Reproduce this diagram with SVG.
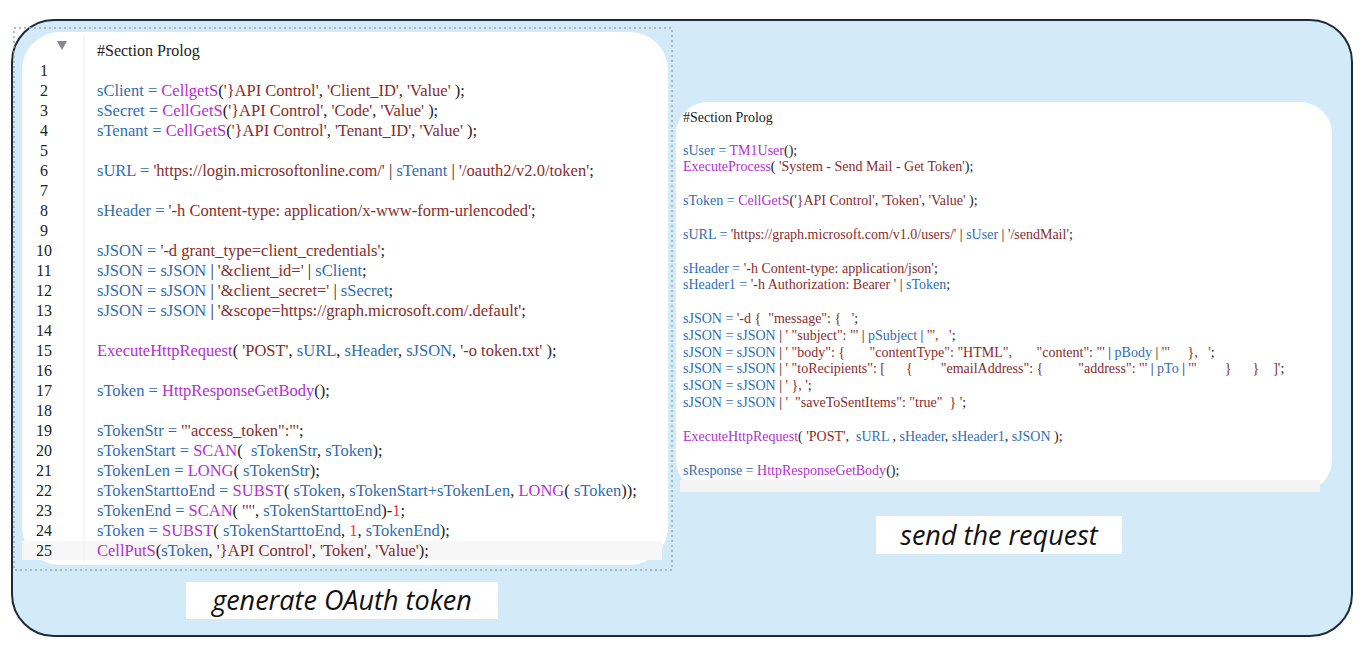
<svg xmlns="http://www.w3.org/2000/svg" width="1368" height="670" viewBox="0 0 1368 670">
<style>
text{white-space:pre}
.c{font-family:"Liberation Serif","Times New Roman","DejaVu Serif",serif;font-size:16.5px;fill:#2f6db3}
.r{font-family:"Liberation Serif","Times New Roman","DejaVu Serif",serif;font-size:14px;fill:#2f6db3}
.n{font-family:"Liberation Serif","Times New Roman","DejaVu Serif",serif;font-size:16px;fill:#222}
.f{fill:#b52fd0}.s{fill:#8a2b2b}.k{fill:#222}.d{fill:#e33}
.lbl{font-family:"Open Sans","DejaVu Sans",sans-serif;font-style:italic;font-size:27px;fill:#111}
</style>
<rect x="12" y="20" width="1340" height="616" rx="42" fill="#d3ebf9" stroke="#1f2b3b" stroke-width="2"/>
<g id="left">
<rect x="14" y="28" width="658" height="542" fill="none" stroke="#9aa" stroke-width="1.5" stroke-dasharray="2 3"/>
<rect x="22" y="32" width="646" height="533" rx="38" fill="#fff"/>
<rect x="22" y="541" width="640" height="19" fill="#f7f7f7"/>
<line x1="84" y1="34" x2="84" y2="562" stroke="#eee"/>
<path d="M57 41h10l-5 9z" fill="#888"/>
<text class="n" x="97" y="56" font-size="17">#Section Prolog</text>
<g class="n" text-anchor="middle">
<text x="44" y="76">1</text><text x="44" y="96">2</text><text x="44" y="116">3</text><text x="44" y="136">4</text><text x="44" y="156">5</text><text x="44" y="176">6</text><text x="44" y="196">7</text><text x="44" y="216">8</text><text x="44" y="236">9</text><text x="44" y="256">10</text><text x="44" y="276">11</text><text x="44" y="296">12</text><text x="44" y="316">13</text><text x="44" y="336">14</text><text x="44" y="356">15</text><text x="44" y="376">16</text><text x="44" y="396">17</text><text x="44" y="416">18</text><text x="44" y="436">19</text><text x="44" y="456">20</text><text x="44" y="476">21</text><text x="44" y="496">22</text><text x="44" y="516">23</text><text x="44" y="536">24</text><text x="44" y="556">25</text>
</g>
<g class="c">
<text x="97" y="96">sClient = <tspan class="f">CellgetS</tspan><tspan class="k">(</tspan><tspan class="s">'}API Control'</tspan><tspan class="k">, </tspan><tspan class="s">'Client_ID'</tspan><tspan class="k">, </tspan><tspan class="s">'Value'</tspan><tspan class="k"> );</tspan></text>
<text x="97" y="116">sSecret = <tspan class="f">CellGetS</tspan><tspan class="k">(</tspan><tspan class="s">'}API Control'</tspan><tspan class="k">, </tspan><tspan class="s">'Code'</tspan><tspan class="k">, </tspan><tspan class="s">'Value'</tspan><tspan class="k"> );</tspan></text>
<text x="97" y="136">sTenant = <tspan class="f">CellGetS</tspan><tspan class="k">(</tspan><tspan class="s">'}API Control'</tspan><tspan class="k">, </tspan><tspan class="s">'Tenant_ID'</tspan><tspan class="k">, </tspan><tspan class="s">'Value'</tspan><tspan class="k"> );</tspan></text>
<text x="97" y="176">sURL = <tspan class="s">'https://login.microsoftonline.com/'</tspan><tspan class="k"> | </tspan>sTenant<tspan class="k"> | </tspan><tspan class="s">'/oauth2/v2.0/token'</tspan><tspan class="k">;</tspan></text>
<text x="97" y="216">sHeader = <tspan class="s">'-h Content-type: application/x-www-form-urlencoded'</tspan><tspan class="k">;</tspan></text>
<text x="97" y="256">sJSON = <tspan class="s">'-d grant_type=client_credentials'</tspan><tspan class="k">;</tspan></text>
<text x="97" y="276">sJSON = sJSON <tspan class="k">| </tspan><tspan class="s">'&amp;client_id='</tspan><tspan class="k"> | </tspan>sClient<tspan class="k">;</tspan></text>
<text x="97" y="296">sJSON = sJSON <tspan class="k">| </tspan><tspan class="s">'&amp;client_secret='</tspan><tspan class="k"> | </tspan>sSecret<tspan class="k">;</tspan></text>
<text x="97" y="316">sJSON = sJSON <tspan class="k">| </tspan><tspan class="s">'&amp;scope=https://graph.microsoft.com/.default'</tspan><tspan class="k">;</tspan></text>
<text x="97" y="356"><tspan class="f">ExecuteHttpRequest</tspan><tspan class="k">( </tspan><tspan class="s">'POST'</tspan><tspan class="k">, </tspan>sURL<tspan class="k">, </tspan>sHeader<tspan class="k">, </tspan>sJSON<tspan class="k">, </tspan><tspan class="s">'-o token.txt'</tspan><tspan class="k"> );</tspan></text>
<text x="97" y="396">sToken = <tspan class="f">HttpResponseGetBody</tspan><tspan class="k">();</tspan></text>
<text x="97" y="436">sTokenStr = <tspan class="s">'"access_token":"'</tspan><tspan class="k">;</tspan></text>
<text x="97" y="456">sTokenStart = <tspan class="f">SCAN</tspan><tspan class="k">(  </tspan>sTokenStr<tspan class="k">, </tspan>sToken<tspan class="k">);</tspan></text>
<text x="97" y="476">sTokenLen = <tspan class="f">LONG</tspan><tspan class="k">( </tspan>sTokenStr<tspan class="k">);</tspan></text>
<text x="97" y="496">sTokenStarttoEnd = <tspan class="f">SUBST</tspan><tspan class="k">( </tspan>sToken<tspan class="k">, </tspan>sTokenStart+sTokenLen<tspan class="k">, </tspan><tspan class="f">LONG</tspan><tspan class="k">( </tspan>sToken<tspan class="k">));</tspan></text>
<text x="97" y="516">sTokenEnd = <tspan class="f">SCAN</tspan><tspan class="k">( </tspan><tspan class="s">'"'</tspan><tspan class="k">, </tspan>sTokenStarttoEnd<tspan class="k">)-</tspan><tspan class="d">1</tspan><tspan class="k">;</tspan></text>
<text x="97" y="536">sToken = <tspan class="f">SUBST</tspan><tspan class="k">( </tspan>sTokenStarttoEnd<tspan class="k">, </tspan><tspan class="d">1</tspan><tspan class="k">, </tspan>sTokenEnd<tspan class="k">);</tspan></text>
<text x="97" y="556"><tspan class="f">CellPutS</tspan><tspan class="k">(</tspan>sToken<tspan class="k">, </tspan><tspan class="s">'}API Control'</tspan><tspan class="k">, </tspan><tspan class="s">'Token'</tspan><tspan class="k">, </tspan><tspan class="s">'Value'</tspan><tspan class="k">);</tspan></text>
</g>
</g>
<g id="right">
<rect x="676" y="102" width="656" height="390" rx="32" fill="#fff"/>
<rect x="680" y="480" width="640" height="12" fill="#f3f3f3"/>
<text class="r k" x="683" y="122" font-size="15">#Section Prolog</text>
<g class="r">
<text x="683" y="155">sUser = <tspan class="f">TM1User</tspan><tspan class="k">();</tspan></text>
<text x="683" y="171"><tspan class="f">ExecuteProcess</tspan><tspan class="k">( </tspan><tspan class="s">'System - Send Mail - Get Token'</tspan><tspan class="k">);</tspan></text>
<text x="683" y="205">sToken = <tspan class="f">CellGetS</tspan><tspan class="k">(</tspan><tspan class="s">'}API Control'</tspan><tspan class="k">, </tspan><tspan class="s">'Token'</tspan><tspan class="k">, </tspan><tspan class="s">'Value'</tspan><tspan class="k"> );</tspan></text>
<text x="683" y="239">sURL = <tspan class="s">'https://graph.microsoft.com/v1.0/users/'</tspan><tspan class="k"> | </tspan>sUser<tspan class="k"> | </tspan><tspan class="s">'/sendMail'</tspan><tspan class="k">;</tspan></text>
<text x="683" y="273">sHeader = <tspan class="s">'-h Content-type: application/json'</tspan><tspan class="k">;</tspan></text>
<text x="683" y="289">sHeader1 = <tspan class="s">'-h Authorization: Bearer '</tspan><tspan class="k"> | </tspan>sToken<tspan class="k">;</tspan></text>
<text x="683" y="323">sJSON = <tspan class="s">'-d {  "message": {   '</tspan><tspan class="k">;</tspan></text>
<text x="683" y="340">sJSON = sJSON <tspan class="k">| </tspan><tspan class="s">' "subject": "'</tspan><tspan class="k"> | </tspan>pSubject<tspan class="k"> | </tspan><tspan class="s">'",   '</tspan><tspan class="k">;</tspan></text>
<text x="683" y="357">sJSON = sJSON <tspan class="k">| </tspan><tspan class="s">' "body": {       "contentType": "HTML",       "content": "'</tspan><tspan class="k"> | </tspan>pBody<tspan class="k"> | </tspan><tspan class="s">'"     },   '</tspan><tspan class="k">;</tspan></text>
<text x="683" y="373">sJSON = sJSON <tspan class="k">| </tspan><tspan class="s">' "toRecipients": [      {        "emailAddress": {          "address": "'</tspan><tspan class="k"> | </tspan>pTo<tspan class="k"> | </tspan><tspan class="s">'"        }      }    ]'</tspan><tspan class="k">;</tspan></text>
<text x="683" y="390">sJSON = sJSON <tspan class="k">| </tspan><tspan class="s">' }, '</tspan><tspan class="k">;</tspan></text>
<text x="683" y="407">sJSON = sJSON <tspan class="k">| </tspan><tspan class="s">'  "saveToSentItems": "true"  } '</tspan><tspan class="k">;</tspan></text>
<text x="683" y="441"><tspan class="f">ExecuteHttpRequest</tspan><tspan class="k">( </tspan><tspan class="s">'POST'</tspan><tspan class="k">,  </tspan>sURL<tspan class="k"> , </tspan>sHeader<tspan class="k">, </tspan>sHeader1<tspan class="k">, </tspan>sJSON<tspan class="k"> );</tspan></text>
<text x="683" y="475">sResponse = <tspan class="f">HttpResponseGetBody</tspan><tspan class="k">();</tspan></text>
</g>
</g>
<g id="label-left">
<rect x="186" y="582" width="312" height="37" fill="#fff"/>
<text class="lbl" x="342" y="610" text-anchor="middle">generate OAuth token</text>
</g>
<g id="label-right">
<rect x="876" y="516" width="246" height="38" fill="#fff"/>
<text class="lbl" x="999" y="545" text-anchor="middle">send the request</text>
</g>
</svg>
